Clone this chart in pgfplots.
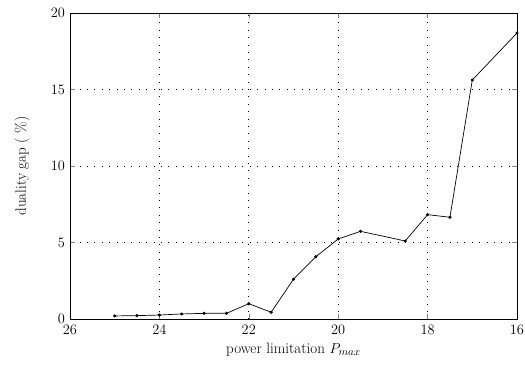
\documentclass[border=0pt]{standalone}
\usepackage{pgfplots}
\pgfplotsset{compat=1.18}
\usetikzlibrary{calc}
\begin{document}
\begin{tikzpicture}
\begin{axis}[
  scale only axis,
  width=447pt, height=306pt,
  x dir=reverse,
  xmin=16, xmax=26, ymin=0, ymax=20,
  xtick={16,18,20,22,24,26},
  ytick={0,5,10,15,20},
  tick align=inside,
  tick pos=both,
  major tick length=5pt,
  grid=major,
  major grid style={black, dash pattern=on 0.7pt off 6.7pt, line width=0.6pt},
  axis line style={black, line width=0.7pt},
  xlabel={power limitation $P_{max}$},
  ylabel={duality gap ( \%)},
  ticklabel style={font=\fontsize{14.5}{17}\selectfont},
  xticklabel style={yshift=-3pt},
  yticklabel style={xshift=-1.5pt},
  every axis y label/.style={at={(axis description cs:-0.107,0.5)}, rotate=90, anchor=center, font=\fontsize{15}{18}\selectfont},
  every axis x label/.style={at={(axis description cs:0.5,-0.101)}, anchor=center, font=\fontsize{15}{18}\selectfont},
]
\addplot[black, line width=0.7pt, mark=*, mark size=1.2pt] coordinates {
(25,0.2) (24.5,0.22) (24,0.26) (23.5,0.33) (23,0.37) (22.5,0.37) (22,1.0) (21.5,0.44) (21,2.6) (20.5,4.07) (20,5.23) (19.5,5.73) (18.5,5.1) (18,6.82) (17.5,6.65) (17,15.62) (16,18.69)
};
\end{axis}
\pgfresetboundingbox
\path ($(current axis.south west)+(-70pt,-46pt)$) rectangle ($(current axis.north east)+(8pt,13pt)$);
\end{tikzpicture}
\end{document}
